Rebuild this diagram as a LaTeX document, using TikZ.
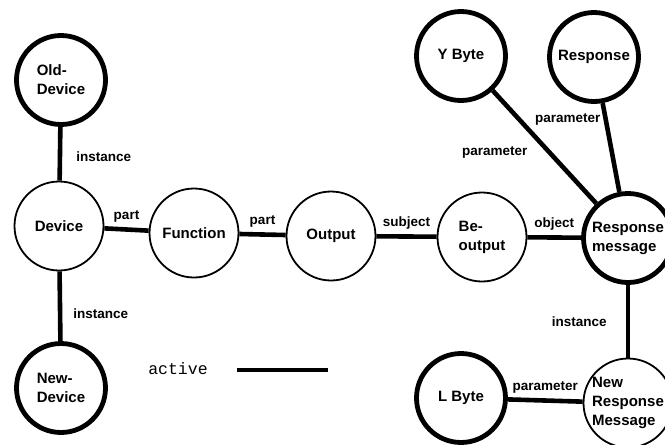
\documentclass[tikz,border=0pt]{standalone}
\usepackage{fontspec}
\setmainfont{Liberation Sans}
\newfontfamily\legendfont{Liberation Mono}
\usetikzlibrary{positioning}

\begin{document}
\begin{tikzpicture}[x=1pt, y=-1pt,
        basenode/.style={circle, draw, minimum size=89pt, inner sep=0pt, align=left,
            font=\fontsize{15}{19}\selectfont\bfseries},
        actnode/.style={basenode, line width=4.8pt},
        idlenode/.style={basenode, line width=1.8pt},
        link/.style={line width=4.6pt},
        lbl/.style={font=\fontsize{13.5}{15}\selectfont\bfseries, inner sep=2pt}
    ]
            \useasboundingbox (0,0) rectangle (665,445);

            \node[actnode] (0) at (61, 80) {Old-\\Device};
            \node[idlenode] (1) at (59, 226) {Device};
            \node[actnode] (2) at (61, 388) {New-\\Device};
            \node[idlenode] (3) at (194, 233) {Function};
            \node[idlenode] (4) at (331, 236) {Output};
            \node[idlenode] (5) at (482, 237) {Be-\\output};
            \node[actnode] (6) at (628, 238) {Response\\message};
            \node[actnode] (7) at (461, 56) {Y Byte};
            \node[actnode] (8) at (594, 57) {Response};
            \node[actnode] (9) at (461, 398) {L Byte};
            \node[idlenode] (10) at (628, 403) {New\\Response\\Message};

            \draw[link] (0) -- node[lbl, pos=0.55, right=12pt] {instance} (1);
            \draw[link] (1) -- node[lbl, pos=0.6, right=9pt] {instance} (2);
            \draw[link] (1) -- node[lbl, above=3pt] {part} (3);
            \draw[link] (3) -- node[lbl, above=3pt] {part} (4);
            \draw[link] (4) -- node[lbl, above=3pt] {subject} (5);
            \draw[link] (5) -- node[lbl, above=3pt] {object} (6);
            \draw[link] (7) -- node[lbl, pos=0.55, left=18pt] {parameter} (6);
            \draw[link] (8) -- node[lbl, pos=0.18, left=1pt] {parameter} (6);
            \draw[link] (6) -- node[lbl, left=17pt] {instance} (10);
            \draw[link] (9) -- node[lbl, above=3pt] {parameter} (10);

            \node[font=\legendfont\fontsize{16.5}{18}\selectfont] (11) at (178, 369) {active};
            \coordinate (12) at (237, 370);
            \coordinate (13) at (328, 370);
            \draw[link] (12) -- (13);
        \end{tikzpicture}
\end{document}
